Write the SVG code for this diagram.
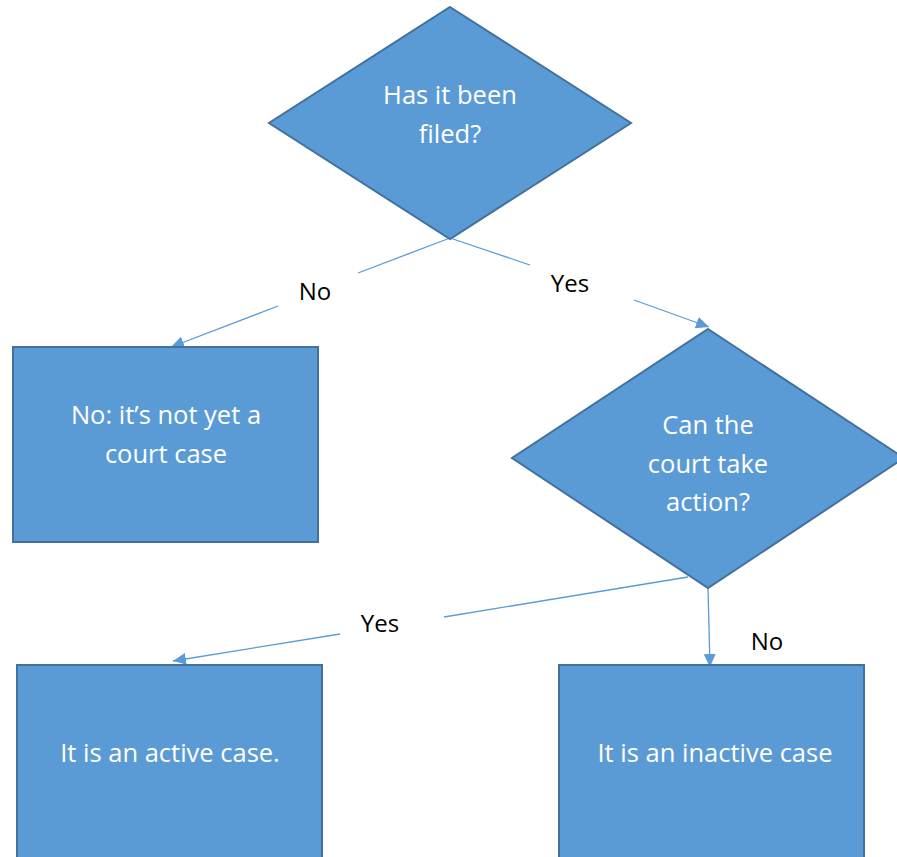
<svg xmlns="http://www.w3.org/2000/svg" width="897" height="857" viewBox="0 0 897 857">
<style>
.shape{fill:#5B9BD5;stroke:#41719C;stroke-width:2}
.t{font-family:"Open Sans","Noto Sans",sans-serif;font-size:25.5px;fill:#FFFFFF;text-anchor:middle}
.lbl{font-family:"Open Sans","Noto Sans",sans-serif;font-size:24px;fill:#000000;text-anchor:middle}
.c{stroke:#5B9BD5;stroke-width:1.3;fill:none}
</style>
<defs>
<marker id="ah" markerUnits="userSpaceOnUse" markerWidth="14" markerHeight="14" viewBox="0 0 14 14" refX="13" refY="7" orient="auto">
<path d="M0,1 L13,7 L0,13 Z" fill="#5B9BD5"/>
</marker>
</defs>
<g id="connectors">
<line class="c" x1="450" y1="238" x2="358" y2="273"/>
<line class="c" x1="278" y1="306" x2="171" y2="347" marker-end="url(#ah)"/>
<line class="c" x1="450" y1="238" x2="530" y2="265"/>
<line class="c" x1="634" y1="300" x2="709" y2="327" marker-end="url(#ah)"/>
<line class="c" x1="688" y1="577" x2="444" y2="617"/>
<line class="c" x1="340" y1="634" x2="173" y2="661" marker-end="url(#ah)"/>
<line class="c" x1="708" y1="588" x2="710" y2="667" marker-end="url(#ah)"/>
<text class="lbl" x="315" y="300">No</text>
<text class="lbl" x="570" y="292">Yes</text>
<text class="lbl" x="380" y="632">Yes</text>
<text class="lbl" x="767" y="650">No</text>
</g>
<g id="d1">
<polygon class="shape" points="450,7 631,123 450,239 269,123"/>
<text class="t" x="450" y="104">Has it been</text>
<text class="t" x="450" y="143">filed?</text>
</g>
<g id="r1">
<rect class="shape" x="13" y="347" width="305" height="195"/>
<text class="t" x="166" y="424">No: it’s not yet a</text>
<text class="t" x="166" y="463">court case</text>
</g>
<g id="d2">
<polygon class="shape" points="708,329 904,458 708,588 512,458"/>
<text class="t" x="708" y="434">Can the</text>
<text class="t" x="708" y="473">court take</text>
<text class="t" x="708" y="511">action?</text>
</g>
<g id="r2">
<rect class="shape" x="17" y="665" width="305" height="200"/>
<text class="t" x="170" y="762">It is an active case.</text>
</g>
<g id="r3">
<rect class="shape" x="559" y="665" width="305" height="200"/>
<text class="t" x="715" y="762">It is an inactive case</text>
</g>
</svg>
